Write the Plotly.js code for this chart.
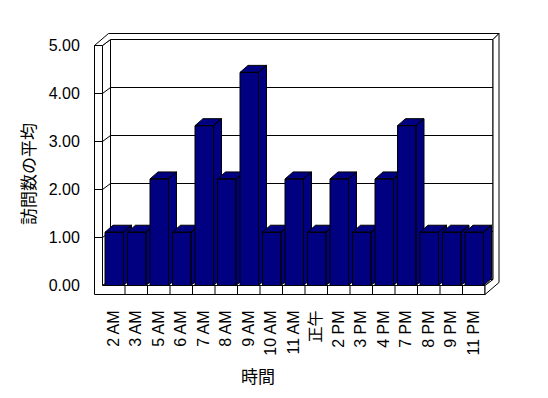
<!DOCTYPE html>
<html><head><meta charset="utf-8">
<script src="https://cdn.plot.ly/plotly-3.0.1.min.js"></script>
<style>html,body{margin:0;padding:0;background:#fff}</style>
</head><body><div id="chart" style="width:548px;height:398px"></div>
<script>
// ---- data ----
const categories = ["2 AM","3 AM","5 AM","6 AM","7 AM","8 AM","9 AM","10 AM","11 AM","正午","2 PM","3 PM","4 PM","7 PM","8 PM","9 PM","11 PM"];
const visits = [1.11,1.11,2.22,1.11,3.33,2.22,4.44,1.11,2.22,1.11,2.22,1.11,2.22,3.33,1.11,1.11,1.11];
const yTicks = [0,1,2,3,4,5];
const yTickLabels = ["0.00","1.00","2.00","3.00","4.00","5.00"];
const xTitle = "時間";
const yTitle = "訪問数の平均";

// ---- layout geometry (pixels) ----
const n = categories.length;
const catPx = 22.5, x0Px = 102.5;      // px where x = -0.5
const unitPx = 48, y0Px = 285.5;       // px where y = 0
const L = 92, R = 510, T = 20, B = 298;
const xr = [-0.5 - (x0Px - L) / catPx, -0.5 + (R - x0Px) / catPx];
const yr = [(y0Px - B) / unitPx, (y0Px - T) / unitPx];
const px2x = p => p / catPx, px2y = p => p / unitPx;
const DX = px2x(8), DY = px2y(6);      // floor depth
const BX = px2x(6), BY = px2y(6);      // back wall thickness
const TX = px2x(8), TY = px2y(9);      // side wall / floor thickness
const bdx = px2x(8), bdy = px2y(7);    // bar depth
const g1 = px2x(2.5), g2 = px2x(1.5);  // bar gaps
const xa = -0.5, xb = n - 0.5, yTop = yTicks[yTicks.length - 1];
const NAVY = "#000080";

function path(pts){ return "M" + pts.map(p => p[0] + "," + p[1]).join("L") + "Z"; }
function poly(pts){ return {type:"path", xref:"x", yref:"y", layer:"below", path:path(pts), fillcolor:"#ffffff", line:{color:"#000", width:1}}; }
function seg(p, q){ return {type:"line", xref:"x", yref:"y", layer:"below", x0:p[0], y0:p[1], x1:q[0], y1:q[1], line:{color:"#000", width:1}}; }

const shapes = [];
shapes.push(poly([[xa+DX,DY],[xb+DX,DY],[xb+DX,yTop+DY],[xa+DX,yTop+DY]]));
shapes.push(poly([[xa,0],[xb,0],[xb+DX,DY],[xa+DX,DY]]));
shapes.push(poly([[xa,0],[xa+DX,DY],[xa+DX,yTop+DY],[xa,yTop]]));
shapes.push(poly([[xa-TX,-TY],[xb,-TY],[xb,0],[xa,0],[xa,yTop],[xa-TX,yTop]]));
shapes.push(poly([[xa-TX,yTop],[xa,yTop],[xa+DX,yTop+DY],[xb+DX,yTop+DY],[xb+DX+BX,yTop+DY+BY],[xa-TX+DX+BX,yTop+DY+BY]]));
shapes.push(poly([[xb,-TY],[xb,0],[xb+DX,DY],[xb+DX,yTop+DY],[xb+DX+BX,yTop+DY+BY],[xb+DX+BX,-TY+DY+BY]]));
yTicks.forEach(v => {
  if (v === 0 || v === yTop) return;
  shapes.push(seg([xa+DX, v+DY], [xb+DX, v+DY]));
  shapes.push(seg([xa, v], [xa+DX, v+DY]));
  shapes.push(seg([xa-TX, v], [xa, v]));
});
for (let i = 0; i < n - 1; i++) shapes.push(seg([i+0.5, -TY], [i+0.5, 0]));

const traces = visits.map((v, i) => {
  const x0 = i - 0.5 + g1, x1 = i + 0.5 - g2;
  const side = [[x1,0],[x1+bdx,bdy],[x1+bdx,v+bdy],[x1,v],[x1,0]];
  const tp = [[x0,v],[x1,v],[x1+bdx,v+bdy],[x0+bdx,v+bdy],[x0,v]];
  const front = [[x0,0],[x1,0],[x1,v],[x0,v],[x0,0]];
  const xs = [], ys = [];
  [side, tp, front].forEach((pg, k) => {
    if (k) { xs.push(null); ys.push(null); }
    pg.forEach(p => { xs.push(p[0]); ys.push(p[1]); });
  });
  return {type:"scatter", mode:"lines", x:xs, y:ys, fill:"toself", fillcolor:NAVY,
          line:{color:"#000", width:1}, hoverinfo:"skip", showlegend:false, name:categories[i]};
});

const FONT = "Liberation Sans, Arial, Noto Sans CJK JP, sans-serif";
const layout = {
  width:548, height:398,
  margin:{l:L, r:548-R, t:T, b:398-B, pad:0},
  paper_bgcolor:"#fff", plot_bgcolor:"rgba(0,0,0,0)",
  showlegend:false,
  font:{family:FONT, size:16, color:"#000"},
  xaxis:{range:xr, tickmode:"array", tickvals:categories.map((c,i)=>i), ticktext:categories,
         tickangle:-90, ticks:"outside", ticklen:5, tickcolor:"rgba(0,0,0,0)",
         showgrid:false, zeroline:false, showline:false, fixedrange:true,
         tickfont:{family:"Liberation Sans, Noto Sans CJK JP, sans-serif", size:16, color:"#000"}},
  yaxis:{range:yr, tickmode:"array", tickvals:yTicks, ticktext:yTickLabels,
         ticks:"outside", ticklen:8, tickcolor:"rgba(0,0,0,0)",
         showgrid:false, zeroline:false, showline:false, fixedrange:true,
         tickfont:{family:"Liberation Sans, sans-serif", size:16, color:"#000"}},
  shapes:shapes,
  annotations:[
    {text:xTitle, xref:"paper", yref:"paper", x:(258-L)/(R-L), y:(B-375)/(B-T),
     xanchor:"center", yanchor:"middle", showarrow:false,
     font:{family:"Noto Sans CJK JP, sans-serif", size:17, color:"#000"}},
    {text:yTitle, xref:"paper", yref:"paper", x:(27-L)/(R-L), y:(B-174)/(B-T),
     xanchor:"center", yanchor:"middle", textangle:-90, showarrow:false,
     font:{family:"Noto Sans CJK JP, sans-serif", size:17, color:"#000"}}
  ]
};
Plotly.newPlot("chart", traces, layout, {staticPlot:true, displayModeBar:false});
</script></body></html>
